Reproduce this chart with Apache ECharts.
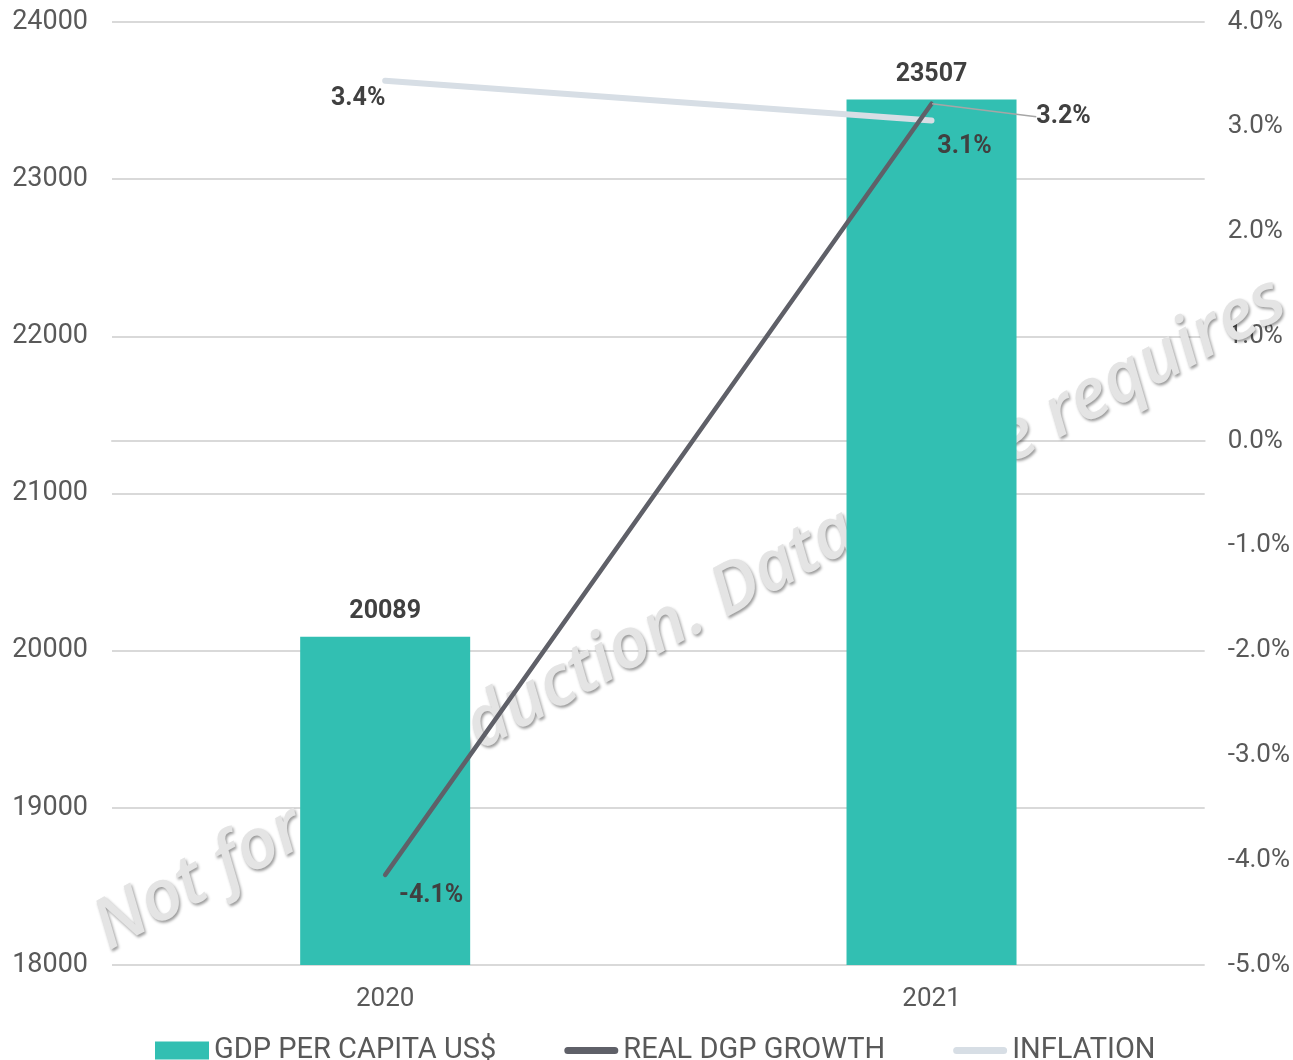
<!DOCTYPE html>
<html>
<head>
<meta charset="utf-8">
<script src="https://cdn.jsdelivr.net/npm/echarts@6/dist/echarts.min.js"></script>
<style>
  html, body { margin: 0; padding: 0; background: #fff; }
  #chart { width: 1293px; height: 1060px; }
</style>
</head>
<body>
<div id="chart"></div>
<script>
// data
var years = ['2020', '2021'];
var gdpPerCapita = [20089, 23507];
var realGrowth = [-4.14, 3.22];
var inflation = [3.44, 3.06];

var leftTicks = { min: 18000, max: 24000, step: 1000 };
var rightTicks = { min: -5, max: 4, step: 1 };

var chart = echarts.init(document.getElementById('chart'));

var pct = function (v) { return v.toFixed(1) + '%'; };
var labelFont = { color: '#404040', fontSize: 25, fontWeight: 'bold', fontFamily: 'Roboto' };
// thin rounded line icon for legend, padded to 54x18
var lineIcon = 'path://M0,0 L0.01,0 L0,0.01 Z M0,18 L0.01,18 L0,17.99 Z M3.5,5.5 L50.5,5.5 A3.5,3.5 0 0 1 50.5,12.5 L3.5,12.5 A3.5,3.5 0 0 1 3.5,5.5 Z';

var option = {
    animation: false,
    textStyle: { fontFamily: 'Roboto' },
    grid: { left: 112, right: 88, top: 22, bottom: 95 },
    // watermark
    graphic: [{
        type: 'text',
        z: 1,
        x: 116,
        y: 964,
        rotation: 0.495,
        style: {
            text: 'Not for reproduction. Data usage requires',
            fontFamily: 'Open Sans',
            fontStyle: 'italic',
            fontWeight: 600,
            fontSize: 70,
            fill: '#e4e4e4',
            textAlign: 'left',
            textVerticalAlign: 'bottom',
            textShadowColor: 'rgba(0,0,0,0.4)',
            textShadowBlur: 3,
            textShadowOffsetX: 1.5,
            textShadowOffsetY: 2
        }
    }],
    legend: {
        left: 150,
        top: 1031,
        itemWidth: 54,
        itemHeight: 18,
        itemGap: 68,
        textStyle: { color: '#595959', fontSize: 29, fontFamily: 'Roboto' },
        data: [
            { name: 'GDP PER CAPITA US$', icon: 'rect' },
            { name: 'REAL DGP GROWTH', icon: lineIcon, itemStyle: { color: '#5f6068' } },
            { name: 'INFLATION', icon: lineIcon, itemStyle: { color: '#d7dee5' } }
        ]
    },
    xAxis: {
        type: 'category',
        data: years,
        axisLine: { lineStyle: { color: '#d9d9d9', width: 2 } },
        axisTick: { show: false },
        axisLabel: { color: '#595959', fontSize: 26, margin: 21 }
    },
    yAxis: [{
        type: 'value',
        min: leftTicks.min,
        max: leftTicks.max,
        interval: leftTicks.step,
        axisLabel: { color: '#595959', fontSize: 27, margin: 24, formatter: function (v) { return String(v); } },
        splitLine: { lineStyle: { color: '#d9d9d9', width: 2 } }
    }, {
        type: 'value',
        min: rightTicks.min,
        max: rightTicks.max,
        interval: rightTicks.step,
        axisLabel: { color: '#595959', fontSize: 26, margin: 23, formatter: pct },
        splitLine: { show: false }
    }],
    series: [{
        name: 'GDP PER CAPITA US$',
        type: 'bar',
        barWidth: 170,
        itemStyle: { color: '#32bfb2' },
        label: Object.assign({ show: true, position: 'top', distance: 12 }, labelFont),
        data: gdpPerCapita
    }, {
        name: 'REAL DGP GROWTH',
        type: 'line',
        yAxisIndex: 1,
        z: 4,
        symbol: 'circle',
        symbolSize: 1,
        lineStyle: { color: '#5f6068', width: 4.5, cap: 'round' },
        itemStyle: { color: '#5f6068' },
        label: Object.assign({ show: true, position: 'inside', formatter: function (p) { return pct(p.value); } }, labelFont),
        labelLine: { show: true, lineStyle: { color: '#a6a6a6', width: 1.5 } },
        labelLayout: function (p) {
            if (p.dataIndex === 0) return { dx: 46, dy: 21 };
            return { dx: 132, dy: 13 };
        },
        data: [
            { value: realGrowth[0], labelLine: { show: false } },
            { value: realGrowth[1] }
        ]
    }, {
        name: 'INFLATION',
        type: 'line',
        yAxisIndex: 1,
        z: 3,
        symbol: 'circle',
        symbolSize: 1,
        lineStyle: { color: '#d7dee5', width: 6, cap: 'round' },
        itemStyle: { color: '#d7dee5' },
        label: Object.assign({ show: true, position: 'inside', formatter: function (p) { return pct(p.value); } }, labelFont),
        data: [
            { value: inflation[0], label: { offset: [-27, 18] } },
            { value: inflation[1], label: { offset: [33, 26] } }
        ]
    }]
};

chart.setOption(option);
</script>
</body>
</html>
